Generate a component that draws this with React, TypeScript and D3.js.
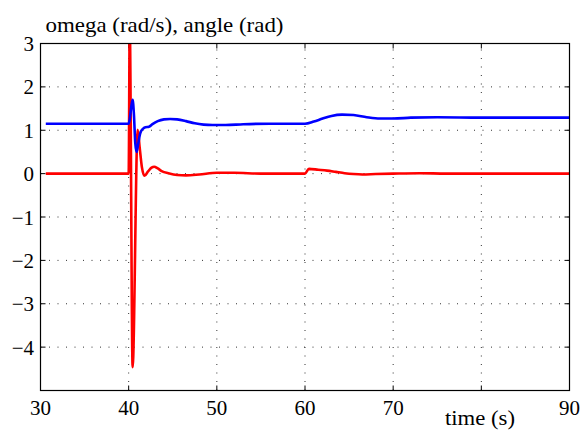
import React from "react";
import * as d3 from "d3";

const timeRed = [30.6, 40.0, 40.12, 40.45, 41.02, 41.25, 41.5, 41.8, 42.2, 42.6, 42.9, 43.3, 43.8, 44.5, 45.5, 46.5, 48, 50, 52, 55, 60.0, 60.45, 61.5, 62.5, 63.5, 64.5, 65.5, 66.5, 68, 70, 73, 76, 90];
const omega = [0, 0, 3.4, -4.46, 1.01, 0.6, 0.15, -0.05, 0.05, 0.14, 0.16, 0.12, 0.05, 0.01, -0.03, -0.04, -0.02, 0.02, 0.02, 0.0, 0, 0.11, 0.09, 0.07, 0.04, 0.01, -0.01, -0.02, -0.01, 0.0, 0.01, 0.0, 0];

const timeBlue = [30.6, 40.0, 40.12, 40.3, 40.45, 40.6, 40.75, 40.9, 41.05, 41.3, 41.6, 41.9, 42.3, 42.7, 43.3, 44.0, 44.7, 45.5, 46.5, 47.5, 48.5, 49.5, 51, 53, 56, 60, 61, 62, 63, 64.2, 65.5, 67, 68.5, 70, 72, 75, 80, 90];
const angle = [1.15, 1.15, 1.25, 1.55, 1.7, 1.35, 0.7, 0.5, 0.65, 0.92, 1.03, 1.07, 1.08, 1.14, 1.21, 1.25, 1.26, 1.25, 1.21, 1.16, 1.13, 1.12, 1.12, 1.14, 1.15, 1.15, 1.2, 1.27, 1.33, 1.36, 1.35, 1.3, 1.27, 1.27, 1.29, 1.3, 1.29, 1.29];

const xTicks = [30, 40, 50, 60, 70, 80, 90];
const xTickLabels = ["30", "40", "50", "60", "70", "", "90"];
const yTicks = [-5, -4, -3, -2, -1, 0, 1, 2, 3];
const yTickLabels = ["", "\u22124", "\u22123", "\u22122", "\u22121", "0", "1", "2", "3"];
const titleText = "omega (rad/s), angle (rad)";
const xLabelText = "time (s)";

const W = 586, H = 431;
const L = 40.5, R = 569.5, T = 43.5, B = 390.5;
const FONT = "Liberation Serif, Times New Roman, Times, DejaVu Serif, Liberation Sans, Arial, sans-serif";
const textStyle = { fontFamily: FONT, fontSize: "21px" };

export default function App() {
  const x = d3.scaleLinear().domain([30, 90]).range([L, R]);
  const y = d3.scaleLinear().domain([-5, 3]).range([B, T]);
  const line = d3.line<[number, number]>().x(d => x(d[0])).y(d => y(d[1])).curve(d3.curveMonotoneX);
  const redPts = timeRed.map((t, i) => [t, omega[i]] as [number, number]);
  const bluePts = timeBlue.map((t, i) => [t, angle[i]] as [number, number]);
  const tickLen = 5;
  return (
    <svg width={W} height={H} style={{ position: "absolute", left: 0, top: 0, background: "#fff" }}>
      <defs>
        <clipPath id="plotclip">
          <rect x={L} y={T} width={R - L} height={B - T} />
        </clipPath>
      </defs>
      <rect x={0} y={0} width={W} height={H} fill="#fff" />
      {xTicks.slice(1, -1).map(v => (
        <line key={"gx" + v} x1={x(v)} x2={x(v)} y1={B} y2={T} stroke="#333" strokeWidth={1} strokeDasharray="1,7.5" />
      ))}
      {yTicks.slice(1, -1).map(v => (
        <line key={"gy" + v} x1={L} x2={R} y1={y(v)} y2={y(v)} stroke="#333" strokeWidth={1} strokeDasharray="1,7.5" />
      ))}
      {xTicks.map(v => (
        <g key={"tx" + v}>
          <line x1={x(v)} x2={x(v)} y1={B} y2={B - tickLen} stroke="#000" />
          <line x1={x(v)} x2={x(v)} y1={T} y2={T + tickLen} stroke="#000" />
        </g>
      ))}
      {yTicks.map(v => (
        <g key={"ty" + v}>
          <line x1={L} x2={L + tickLen} y1={y(v)} y2={y(v)} stroke="#000" />
          <line x1={R} x2={R - tickLen} y1={y(v)} y2={y(v)} stroke="#000" />
        </g>
      ))}
      <g clipPath="url(#plotclip)">
        <path d={line(redPts) || ""} fill="none" stroke="#ff0000" strokeWidth={2.6} strokeLinejoin="round" />
        <path d={line(bluePts) || ""} fill="none" stroke="#0000ff" strokeWidth={2.6} strokeLinejoin="round" />
      </g>
      <rect x={L} y={T} width={R - L} height={B - T} fill="none" stroke="#000" strokeWidth={1.2} />
      {xTicks.map((v, i) => (
        <text key={"lx" + v} x={x(v)} y={415} textAnchor="middle" style={textStyle} fill="#000">{xTickLabels[i]}</text>
      ))}
      {yTicks.map((v, i) => (
        <text key={"ly" + v} x={34} y={y(v) + 7.5} textAnchor="end" style={textStyle} fill="#000">{yTickLabels[i]}</text>
      ))}
      <text x={45.5} y={32} style={textStyle} fill="#000" textLength={238} lengthAdjust="spacingAndGlyphs">{titleText}</text>
      <text x={445} y={425} style={textStyle} fill="#000" textLength={70} lengthAdjust="spacingAndGlyphs">{xLabelText}</text>
    </svg>
  );
}
